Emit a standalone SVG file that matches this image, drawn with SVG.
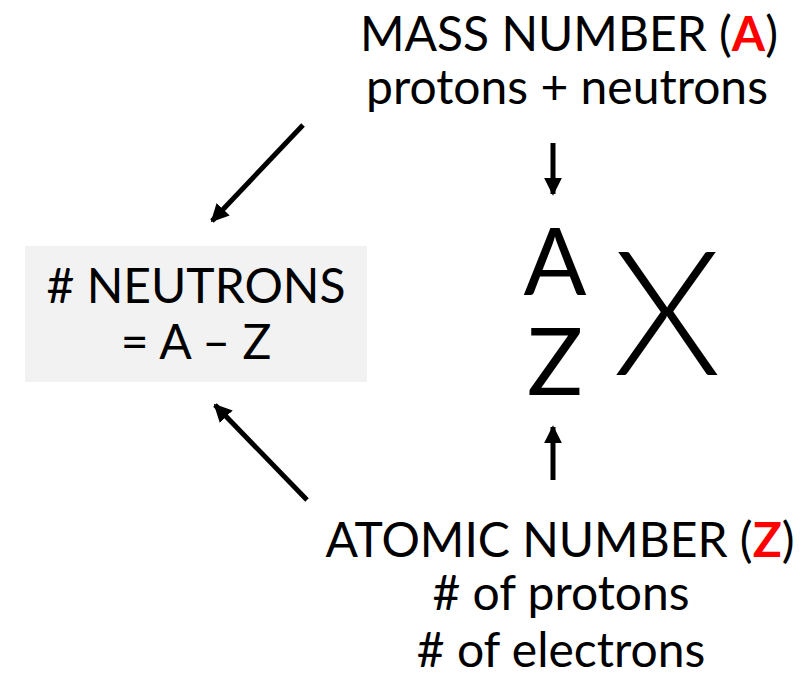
<svg xmlns="http://www.w3.org/2000/svg" width="809" height="675" viewBox="0 0 809 675">
<style>
text{font-family:Lato,"Noto Sans",sans-serif;fill:#000;text-anchor:middle}
.t{font-size:48px}
.r{fill:#ff0000;font-weight:bold}
.c{stroke:#000;stroke-width:5;fill:none}
</style>
<defs>
<marker id="ah" viewBox="0 0 10 10" refX="9" refY="5" markerWidth="3.6" markerHeight="3.6" orient="auto" markerUnits="strokeWidth">
<path d="M0,0 L10,5 L0,10 Z" fill="#000"/>
</marker>
</defs>
<g id="mass-number">
<text class="t" x="569" y="51">MASS NUMBER (<tspan class="r">A</tspan>)</text>
<text class="t" x="567" y="104">protons + neutrons</text>
</g>
<g id="neutrons">
<rect x="25" y="246" width="342" height="136" fill="#f2f2f2"/>
<text class="t" x="196" y="303"># NEUTRONS</text>
<text class="t" x="196" y="359">= A – Z</text>
</g>
<g id="symbol">
<text x="555" y="295" style="font-size:93px">A</text>
<text x="555" y="395" style="font-size:93px">Z</text>
<text x="667" y="375" style="font-size:174px;font-weight:300">X</text>
</g>
<g id="atomic-number">
<text class="t" x="560" y="557">ATOMIC NUMBER (<tspan class="r">Z</tspan>)</text>
<text class="t" x="561" y="610"># of protons</text>
<text class="t" x="561" y="667"># of electrons</text>
</g>
<g id="connectors">
<line class="c" x1="303" y1="125" x2="212" y2="221" marker-end="url(#ah)"/>
<line class="c" x1="307" y1="500" x2="215" y2="405" marker-end="url(#ah)"/>
<line class="c" x1="553" y1="143" x2="553" y2="194" marker-end="url(#ah)"/>
<line class="c" x1="553" y1="480" x2="553" y2="427" marker-end="url(#ah)"/>
</g>
</svg>
